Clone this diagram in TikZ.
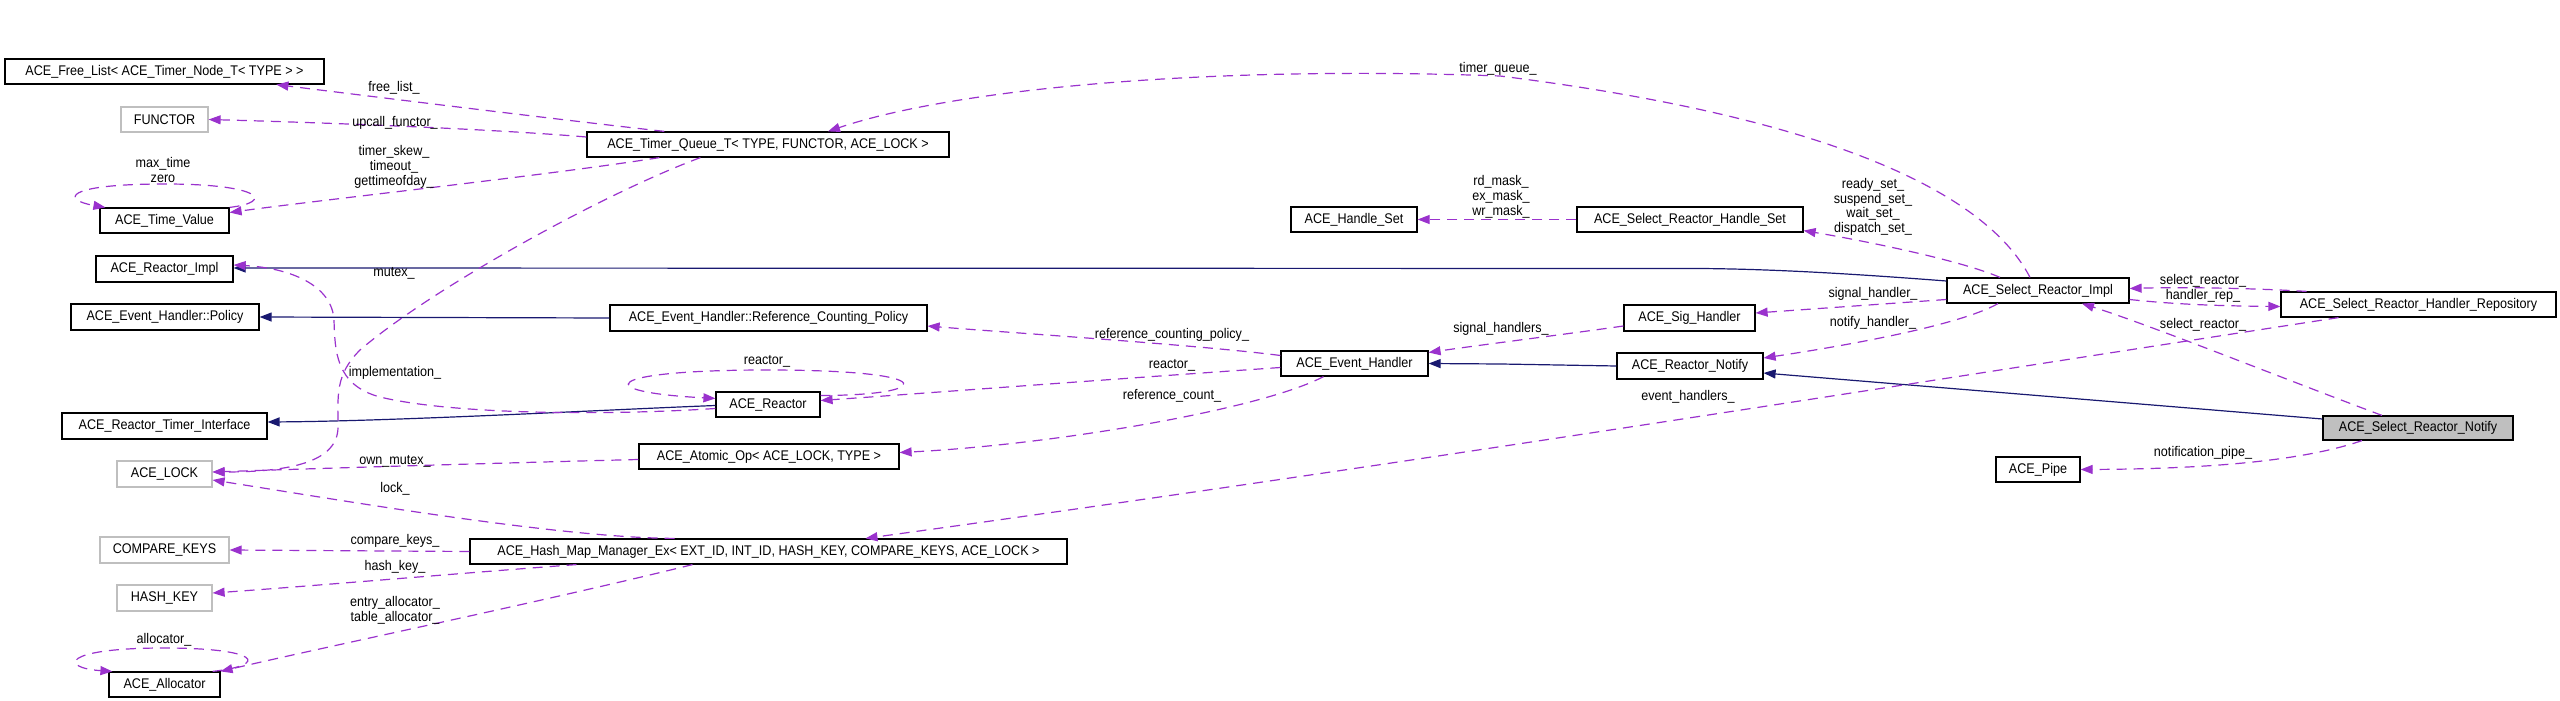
\documentclass[tikz,border=0pt]{standalone}
\usepackage{fontspec}
\setmainfont{Liberation Sans}[FakeStretch=0.9]
\usetikzlibrary{arrows.meta}
\definecolor{usec}{HTML}{9A32CD}
\definecolor{inhc}{HTML}{191970}
\definecolor{greyb}{HTML}{BFBFBF}
\begin{document}
\begin{tikzpicture}[x=1pt,y=-1pt,
 clsbox/.style={draw=black, fill=white, line width=1.2pt, inner sep=0pt, minimum height=25pt, font=\fontsize{14}{16}\selectfont, anchor=center},
 undoc/.style={clsbox, draw=greyb},
 usg/.style={draw=usec, line width=1.2pt, dash pattern=on 10pt off 7pt, -{Triangle[length=12pt,width=9pt]}},
 inh/.style={draw=inhc, line width=1.2pt, -{Triangle[length=12pt,width=9pt]}},
 lbl/.style={font=\fontsize{14}{14.7}\selectfont, inner sep=0pt, align=center}]
\path[use as bounding box] (0,0) rectangle (2560,701);

% ---- nodes ----
\node[clsbox, minimum width=319pt] (fl) at (164.5,71.5) {ACE\_Free\_List< ACE\_Timer\_Node\_T< TYPE > >};
\node[undoc, minimum width=87pt] (functor) at (164.5,119.5) {FUNCTOR};
\node[clsbox, minimum width=362pt] (tq) at (768,144.5) {ACE\_Timer\_Queue\_T< TYPE, FUNCTOR, ACE\_LOCK >};
\node[clsbox, minimum width=129pt] (tv) at (164.5,220.5) {ACE\_Time\_Value};
\node[clsbox, minimum width=137pt, minimum height=26pt] (ri) at (164.5,269) {ACE\_Reactor\_Impl};
\node[clsbox, minimum width=188pt, minimum height=26pt] (pol) at (165,317) {ACE\_Event\_Handler::Policy};
\node[clsbox, minimum width=205pt, minimum height=26pt] (rti) at (164.5,426) {ACE\_Reactor\_Timer\_Interface};
\node[undoc, minimum width=95pt, minimum height=26pt] (lock) at (164.5,474) {ACE\_LOCK};
\node[undoc, minimum width=129pt, minimum height=26pt] (ck) at (164.5,550) {COMPARE\_KEYS};
\node[undoc, minimum width=95pt, minimum height=26pt] (hk) at (164.5,598) {HASH\_KEY};
\node[clsbox, minimum width=111pt] (alloc) at (164.5,684.5) {ACE\_Allocator};
\node[clsbox, minimum width=317pt, minimum height=26pt] (rcp) at (768.5,318) {ACE\_Event\_Handler::Reference\_Counting\_Policy};
\node[clsbox, minimum width=104pt] (reactor) at (768,404.5) {ACE\_Reactor};
\node[clsbox, minimum width=260pt] (aop) at (769,456.5) {ACE\_Atomic\_Op< ACE\_LOCK, TYPE >};
\node[clsbox, minimum width=597pt] (hm) at (768.5,551.5) {ACE\_Hash\_Map\_Manager\_Ex< EXT\_ID, INT\_ID, HASH\_KEY, COMPARE\_KEYS, ACE\_LOCK >};
\node[clsbox, minimum width=147pt] (eh) at (1354.5,363.5) {ACE\_Event\_Handler};
\node[clsbox, minimum width=126pt] (hs) at (1354,219.5) {ACE\_Handle\_Set};
\node[clsbox, minimum width=226pt] (srhs) at (1690,219.5) {ACE\_Select\_Reactor\_Handle\_Set};
\node[clsbox, minimum width=131pt, minimum height=26pt] (sig) at (1689.5,318) {ACE\_Sig\_Handler};
\node[clsbox, minimum width=146pt, minimum height=26pt] (rn) at (1690,366) {ACE\_Reactor\_Notify};
\node[clsbox, minimum width=182pt] (sri) at (2038,290.5) {ACE\_Select\_Reactor\_Impl};
\node[clsbox, minimum width=275pt] (rep) at (2418.5,304.5) {ACE\_Select\_Reactor\_Handler\_Repository};
\node[clsbox, fill=greyb, minimum width=190pt, minimum height=24pt] (srn) at (2418,428) {ACE\_Select\_Reactor\_Notify};
\node[clsbox, minimum width=84pt] (pipe) at (2038,469.5) {ACE\_Pipe};

% ---- inheritance ----
\draw[inh] ([yshift=9.5pt]sri.west) .. controls (1830,272) and (1760,269) .. (1700,268.5) -- ([yshift=1pt]ri.east);
\draw[inh] (rcp.west) -- (pol.east);
\draw[inh] ([yshift=-1pt]reactor.west) .. controls (600,410) and (400,421) .. ([yshift=4pt]rti.east);
\draw[inh] (rn.west) -- (1501,364) -- (eh.east);
\draw[inh] ([yshift=9pt]srn.west) -- ([yshift=-7pt]rn.east);

% ---- usage ----
\draw[usg] ([xshift=78pt]tq.north west) .. controls (545,118) and (360,95) .. ([xshift=272pt]fl.south west);
\draw[usg] ([yshift=7.5pt]tq.west) .. controls (480,128) and (300,122) .. (functor.east);
\draw[usg] ([xshift=73pt]tq.south west) .. controls (550,175) and (320,200) .. ([yshift=8pt]tv.east);
\draw[usg] (tv.north east) .. controls (275,202) and (262,184) .. (165,184) .. controls (62,184) and (62,200) .. ([xshift=6pt]tv.north west);
\draw[usg] ([xshift=-8pt]sri.north) .. controls (1990,200) and (1850,120) .. (1500,76) .. controls (1200,65) and (950,90) .. ([xshift=60pt]tq.north);
\draw[usg] ([xshift=114pt]tq.south west) .. controls (600,195) and (430,290) .. (360,350) .. controls (335,375) and (338,395) .. (338,427) .. controls (338,462) and (290,472) .. ([yshift=2pt]lock.east);
\draw[usg] ([yshift=-4pt]reactor.west) .. controls (600,416) and (450,414) .. (380,397) .. controls (335,385) and (335,350) .. (334,320) .. controls (332,285) and (290,268) .. ([yshift=4pt]ri.east);
\draw[usg] ([yshift=8pt]eh.west) .. controls (1200,345) and (1000,332) .. ([yshift=-8pt]rcp.east);
\draw[usg] ([yshift=-4pt]eh.west) .. controls (1100,380) and (900,395) .. ([yshift=4pt]reactor.east);
\draw[usg] ([yshift=-4pt]reactor.north east) .. controls (930,396) and (950,370) .. (767,370) .. controls (600,370) and (590,392) .. ([yshift=-7pt]reactor.north west);
\draw[usg] ([xshift=-31pt]eh.south) .. controls (1260,410) and (1050,445) .. ([yshift=4pt]aop.east);
\draw[usg] ([yshift=-3pt]aop.west) .. controls (500,463) and (330,468) .. ([yshift=2pt]lock.east);
\draw[usg] ([xshift=-94pt]hm.north) .. controls (560,538) and (340,500) .. ([yshift=-6pt]lock.east);
\draw[usg] (hm.west) -- (ck.east);
\draw[usg] ([xshift=-192pt]hm.south) .. controls (500,570) and (300,587) .. ([yshift=5pt]hk.east);
\draw[usg] ([xshift=-76pt]hm.south) .. controls (550,600) and (320,648) .. (alloc.north east);
\draw[usg] ([xshift=-8pt]alloc.north east) .. controls (270,665) and (260,648) .. (164,648) .. controls (60,648) and (60,668) .. ([xshift=4pt]alloc.north west);
\draw[usg] (srhs.west) -- (hs.east);
\draw[usg] ([xshift=-38pt]sri.north) .. controls (1960,260) and (1860,240) .. ([yshift=2pt]srhs.south east);
\draw[usg] ([yshift=-9pt]sri.west) -- ([yshift=5pt]sig.east);
\draw[usg] ([yshift=-8pt]sig.west) .. controls (1560,335) and (1480,345) .. ([yshift=11pt]eh.east);
\draw[usg] ([xshift=-40pt]sri.south) .. controls (1960,325) and (1850,345) .. ([yshift=8pt]rn.east);
\draw[usg] ([xshift=-80pt]rep.south) .. controls (1900,385) and (1400,465) .. ([xshift=97pt]hm.north);
\draw[usg] ([xshift=-112pt]rep.north) .. controls (2250,288) and (2180,287) .. ([yshift=2pt]sri.east);
\draw[usg] ([yshift=-9pt]sri.east) .. controls (2180,305) and (2230,306) .. ([yshift=-2pt]rep.west);
\draw[usg] ([xshift=-36pt]srn.north) .. controls (2300,385) and (2150,325) .. ([xshift=44pt]sri.south);
\draw[usg] ([xshift=-56pt]srn.south) .. controls (2300,462) and (2200,469) .. (pipe.east);

% ---- labels ----
\node[lbl] (l1) at (394,88) {free\_list\_};
\node[lbl] (l2) at (395,123) {upcall\_functor\_};
\node[lbl] (l3) at (394,167) {timer\_skew\_\\timeout\_\\gettimeofday\_};
\node[lbl] (l4) at (163,170) {max\_time\\zero};
\node[lbl] (l5) at (394,273) {mutex\_};
\node[lbl] (l6) at (395,373) {implementation\_};
\node[lbl] (l7) at (395,461) {own\_mutex\_};
\node[lbl] (l8) at (395,489) {lock\_};
\node[lbl] (l9) at (395,541) {compare\_keys\_};
\node[lbl] (l10) at (395,567) {hash\_key\_};
\node[lbl] (l11) at (395,610) {entry\_allocator\_\\table\_allocator\_};
\node[lbl] (l12) at (164,640) {allocator\_};
\node[lbl] (l13) at (1172,335) {reference\_counting\_policy\_};
\node[lbl] (l14) at (1172,365) {reactor\_};
\node[lbl] (l15) at (1172,396) {reference\_count\_};
\node[lbl] (l16) at (767,361) {reactor\_};
\node[lbl] (l17) at (1498,69) {timer\_queue\_};
\node[lbl] (l18) at (1501,197) {rd\_mask\_\\ex\_mask\_\\wr\_mask\_};
\node[lbl] (l19) at (1873,207) {ready\_set\_\\suspend\_set\_\\wait\_set\_\\dispatch\_set\_};
\node[lbl] (l20) at (1873,294) {signal\_handler\_};
\node[lbl] (l21) at (1873,323) {notify\_handler\_};
\node[lbl] (l22) at (1501,329) {signal\_handlers\_};
\node[lbl] (l23) at (1688,397) {event\_handlers\_};
\node[lbl] (l24) at (2203,281) {select\_reactor\_};
\node[lbl] (l25) at (2203,296) {handler\_rep\_};
\node[lbl] (l26) at (2203,325) {select\_reactor\_};
\node[lbl] (l27) at (2203,453) {notification\_pipe\_};
\end{tikzpicture}
\end{document}
